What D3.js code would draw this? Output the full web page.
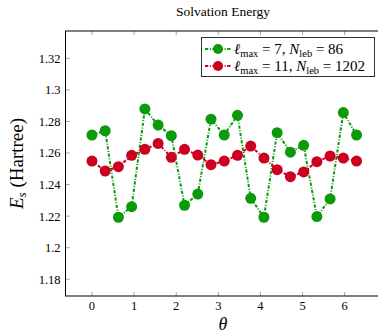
<!DOCTYPE html>
<html><head><meta charset="utf-8">
<script src="https://cdn.jsdelivr.net/npm/d3@7"></script>
<style>body{margin:0;background:#fff;} svg{display:block;} text{font-family:"Liberation Serif","Times New Roman",serif;}</style>
</head><body><svg id="c" width="378" height="334"></svg>
<script>
const theta = [0, 0.314, 0.628, 0.942, 1.257, 1.571, 1.885, 2.199, 2.513, 2.827, 3.142, 3.456, 3.770, 4.084, 4.398, 4.712, 5.027, 5.341, 5.655, 5.969, 6.283];
const es86 = [1.2714, 1.2741, 1.2193, 1.2260, 1.2879, 1.2777, 1.2710, 1.2269, 1.2340, 1.2814, 1.2714, 1.2839, 1.2313, 1.2193, 1.2729, 1.2605, 1.2649, 1.2197, 1.2309, 1.2856, 1.2714];
const es1202 = [1.2549, 1.2486, 1.2513, 1.2585, 1.2623, 1.2661, 1.2573, 1.2623, 1.2587, 1.2526, 1.2549, 1.2585, 1.2644, 1.2568, 1.2494, 1.2450, 1.2480, 1.2545, 1.2581, 1.2568, 1.2549];
const xTicks = [0, 1, 2, 3, 4, 5, 6];
const yTicks = [1.18, 1.2, 1.22, 1.24, 1.26, 1.28, 1.3, 1.32];
const seriesNames = ["86", "1202"];
const seriesLmax = ["7", "11"];
const colors = ["#0a9a0a", "#cc0020"];

const svg = d3.select("#c");
const L = 65.5, R = 383, T = 31, B = 296;
const x = d3.scaleLinear().domain([-0.628, 6.911]).range([L, R]);
const y = d3.scaleLinear().domain([1.1694, 1.3373]).range([B, T]);

svg.append("text").attr("x", 223).attr("y", 16).attr("text-anchor", "middle")
  .attr("font-size", 13.5).text("Solvation Energy");

const tg = svg.append("g").attr("stroke", "#888").attr("stroke-width", 0.8);
xTicks.forEach(t => {
  tg.append("line").attr("x1", x(t)).attr("x2", x(t)).attr("y1", B).attr("y2", B - 4);
  tg.append("line").attr("x1", x(t)).attr("x2", x(t)).attr("y1", T).attr("y2", T + 4);
});
yTicks.forEach(t => {
  tg.append("line").attr("x1", L).attr("x2", L + 4).attr("y1", y(t)).attr("y2", y(t));
  tg.append("line").attr("x1", R).attr("x2", R - 4).attr("y1", y(t)).attr("y2", y(t));
});

svg.append("g").selectAll("text").data(xTicks).join("text")
  .attr("x", d => x(d)).attr("y", B + 14).attr("text-anchor", "middle")
  .attr("font-size", 12.5).text(d => d);
svg.append("g").selectAll("text").data(yTicks).join("text")
  .attr("x", L - 5).attr("y", d => y(d)).attr("dy", "0.35em").attr("text-anchor", "end")
  .attr("font-size", 12.5).text(d => d);

svg.append("text").attr("x", 223).attr("y", 330).attr("text-anchor", "middle")
  .attr("font-style", "italic").attr("font-size", 18).text("θ");
const yl = svg.append("text").attr("transform", `translate(23,${(T + B) / 2}) rotate(-90)`)
  .attr("text-anchor", "middle").attr("font-size", 19);
yl.append("tspan").attr("font-style", "italic").text("E");
yl.append("tspan").attr("font-style", "italic").attr("font-size", 13).attr("dy", 3).text("s");
yl.append("tspan").attr("dy", -3).text(" (Hartree)");

const data = [es86, es1202];
data.forEach((vals, i) => {
  const pts = theta.map((t, k) => [t, vals[k]]);
  svg.append("path").datum(pts)
    .attr("d", d3.line().x(d => x(d[0])).y(d => y(d[1])))
    .attr("fill", "none").attr("stroke", colors[i]).attr("stroke-width", 2)
    .attr("stroke-dasharray", "3.2,1.6,1,1.6");
});
data.forEach((vals, i) => {
  svg.append("g").selectAll("circle").data(theta.map((t, k) => [t, vals[k]])).join("circle")
    .attr("cx", d => x(d[0])).attr("cy", d => y(d[1])).attr("r", 5.5)
    .attr("fill", colors[i]);
});

svg.append("rect").attr("x", L).attr("y", T).attr("width", R - L).attr("height", B - T)
  .attr("fill", "none").attr("stroke", "#000").attr("stroke-width", 1);

const lg = svg.append("g");
lg.append("rect").attr("x", 201.5).attr("y", 37.5).attr("width", 173).attr("height", 39)
  .attr("fill", "#fff").attr("stroke", "#333").attr("stroke-width", 1);
seriesNames.forEach((n, i) => {
  const cy = 49 + i * 17;
  lg.append("line").attr("x1", 205).attr("x2", 231).attr("y1", cy).attr("y2", cy)
    .attr("stroke", colors[i]).attr("stroke-width", 2).attr("stroke-dasharray", "3.2,1.6,1,1.6");
  lg.append("circle").attr("cx", 218).attr("cy", cy).attr("r", 5).attr("fill", colors[i]);
  const t = lg.append("text").attr("x", 234).attr("y", cy).attr("dy", "0.35em")
    .attr("font-size", 15);
  t.append("tspan").attr("font-style", "italic").text("ℓ");
  t.append("tspan").attr("font-size", 10.5).attr("dy", 3).text("max");
  t.append("tspan").attr("dy", -3).text(" = " + seriesLmax[i] + ", ");
  t.append("tspan").attr("font-style", "italic").text("N");
  t.append("tspan").attr("font-size", 10.5).attr("dy", 3).text("leb");
  t.append("tspan").attr("dy", -3).text(" = " + n);
});
</script></body></html>
